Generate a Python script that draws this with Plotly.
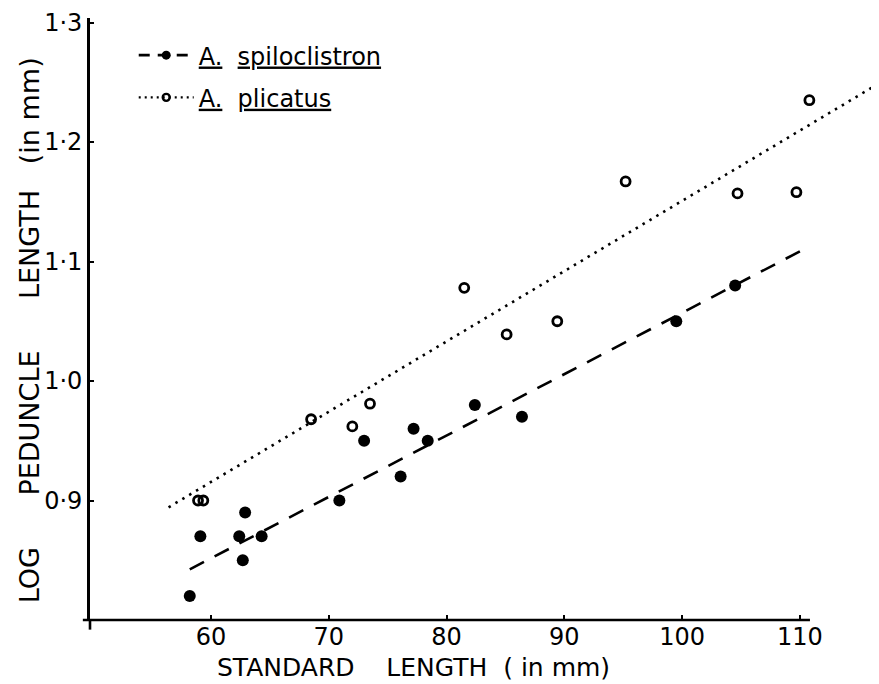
import plotly.graph_objects as go

# ---- data ----
spil_x = [58.2, 59.1, 62.4, 62.7, 62.9, 64.3, 70.9, 73.0, 76.1, 77.2, 78.4, 82.4, 86.4, 99.5, 104.5]
spil_y = [0.82, 0.87, 0.87, 0.85, 0.89, 0.87, 0.90, 0.95, 0.92, 0.96, 0.95, 0.98, 0.97, 1.05, 1.08]

plic_x = [58.9, 59.35, 68.5, 72.0, 73.5, 81.5, 85.1, 89.4, 95.2, 104.7, 109.7, 110.8]
plic_y = [0.90, 0.90, 0.968, 0.962, 0.981, 1.078, 1.039, 1.050, 1.167, 1.157, 1.158, 1.235]

# regression lines (end points as drawn)
spil_line_x = [58.2, 110.6]
spil_line_y = [0.8424, 1.1116]
plic_line_x = [56.4, 117.1]
plic_line_y = [0.8943, 1.2514]

x_ticks = [60, 70, 80, 90, 100, 110]
y_ticks = [0.9, 1.0, 1.1, 1.2, 1.3]
y_tick_text = ["0\u00b79", "1\u00b70", "1\u00b71", "1\u00b72", "1\u00b73"]

X_RANGE = [49.73, 117.22]
Y_RANGE = [0.8, 1.3038]
X_AXIS_END = 110.85

FONT = "DejaVu Sans"
NB = "\u00a0"

fig = go.Figure()

# regression lines
fig.add_trace(go.Scatter(x=spil_line_x, y=spil_line_y, mode="lines",
                         line=dict(color="black", width=2.6, dash="16px,12px"),
                         showlegend=False, hoverinfo="skip"))
fig.add_trace(go.Scatter(x=plic_line_x, y=plic_line_y, mode="lines",
                         line=dict(color="black", width=2.6, dash="2.5px,5.5px"),
                         showlegend=False, hoverinfo="skip"))
# points
fig.add_trace(go.Scatter(x=spil_x, y=spil_y, mode="markers",
                         marker=dict(symbol="circle", size=12, color="black"),
                         showlegend=False))
fig.add_trace(go.Scatter(x=plic_x, y=plic_y, mode="markers",
                         marker=dict(symbol="circle-open", size=9, color="black",
                                     line=dict(width=2.8, color="black")),
                         showlegend=False))

# legend entries
fig.add_trace(go.Scatter(x=[None], y=[None], mode="lines+markers",
                         line=dict(color="black", width=2.6, dash="11px,8px"),
                         marker=dict(symbol="circle", size=9, color="black"),
                         name="<u>A.</u>" + NB * 2 + "<u>spiloclistron</u>",
                         legendgroup="a"))
fig.add_trace(go.Scatter(x=[None], y=[None], mode="lines+markers",
                         line=dict(color="black", width=2.2, dash="2px,4px"),
                         marker=dict(symbol="circle-open", size=7, color="black",
                                     line=dict(width=2.4, color="black")),
                         name="<u>A.</u>" + NB * 2 + "<u>plicatus</u>",
                         legendgroup="b"))

span = X_RANGE[1] - X_RANGE[0]
x_end_paper = (X_AXIS_END - X_RANGE[0]) / span

# x-axis line (ends at 110.85, starts slightly left of the y-axis)
fig.add_shape(type="line", xref="paper", yref="paper", x0=-0.009, x1=x_end_paper,
              y0=0, y1=0, line=dict(color="black", width=2.6), layer="above")
# y-axis stub below the x-axis
fig.add_shape(type="line", xref="paper", yref="paper", x0=0, x1=0,
              y0=0, y1=-0.016, line=dict(color="black", width=2.6), layer="above")

fig.update_layout(
    width=879, height=684,
    margin=dict(l=82, r=2, t=10, b=72),
    paper_bgcolor="white", plot_bgcolor="white",
    font=dict(family=FONT, size=24, color="black"),
    xaxis=dict(range=X_RANGE, showline=False, showgrid=False, zeroline=False,
               ticks="inside", ticklen=5, tickwidth=2, tickcolor="black",
               tickvals=x_ticks, ticktext=[str(v) for v in x_ticks],
               tickfont=dict(family=FONT, size=24, color="black")),
    yaxis=dict(range=Y_RANGE, showline=True, linewidth=2.6, linecolor="black",
               showgrid=False, zeroline=False,
               ticks="inside", ticklen=4, tickwidth=2, tickcolor="black",
               tickvals=y_ticks, ticktext=y_tick_text,
               tickfont=dict(family=FONT, size=24, color="black")),
    legend=dict(x=0.055, y=0.975, xanchor="left", yanchor="top",
                bgcolor="rgba(0,0,0,0)", borderwidth=0,
                font=dict(family=FONT, size=24, color="black"),
                itemwidth=55, tracegroupgap=8),
    showlegend=True,
)

fig.add_annotation(text="STANDARD" + NB * 4 + "LENGTH" + NB * 2 + "(" + NB + "in mm)",
                   xref="paper", yref="paper",
                   x=(405 - 82) / 795, y=-(659 - 611.7) / 602,
                   xanchor="center", yanchor="middle", showarrow=False,
                   font=dict(family=FONT, size=25, color="black"))
fig.add_annotation(text="LOG" + NB * 6 + "PEDUNCLE" + NB * 6 + "LENGTH" + NB * 3 + "(in mm)",
                   xref="paper", yref="paper",
                   x=-(82 - 21) / 795, y=(611.7 - 322) / 602,
                   xanchor="center", yanchor="middle", textangle=-90, showarrow=False,
                   font=dict(family=FONT, size=27, color="black"))

fig.write_html("out.html")
